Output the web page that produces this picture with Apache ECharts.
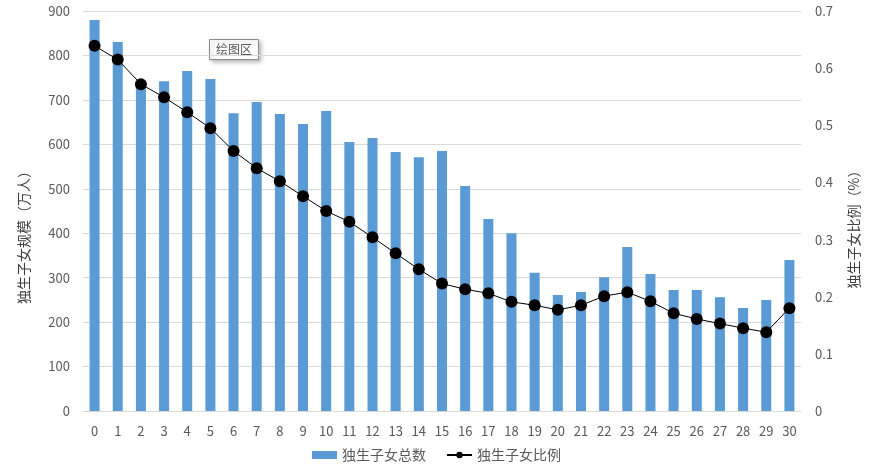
<!DOCTYPE html>
<html><head><meta charset="utf-8">
<script src="https://cdn.jsdelivr.net/npm/echarts@6/dist/echarts.min.js"></script>
<style>html,body{margin:0;padding:0;background:#fff}#c{width:873px;height:473px}</style>
</head><body><div id="c"></div>
<script>
const categories = ['0','1','2','3','4','5','6','7','8','9','10','11','12','13','14','15','16','17','18','19','20','21','22','23','24','25','26','27','28','29','30'];
const totalValues = [880,830,740,742,765,747,670,695,668,646,675,605,614,583,571,585,506,432,400,311,261,268,301,369,308,272,272,256,232,250,340];
const ratioValues = [0.639,0.615,0.572,0.549,0.523,0.495,0.455,0.425,0.402,0.376,0.350,0.331,0.304,0.276,0.248,0.223,0.213,0.206,0.191,0.185,0.177,0.185,0.201,0.208,0.192,0.171,0.161,0.153,0.145,0.138,0.180];
const leftTicks = {min:0, max:900, interval:100};
const rightTicks = {min:0, max:0.7, interval:0.1};
const seriesNames = ['独生子女总数','独生子女比例'];
const axisNames = ['独生子女规模（万人）','独生子女比例（%）'];

const font = '"Noto Sans CJK SC", "Noto Sans", sans-serif';
const chart = echarts.init(document.getElementById('c'), null, {renderer:'canvas'});
chart.setOption({
  animation:false,
  backgroundColor:'#fff',
  textStyle:{fontFamily:font},
  grid:{left:83, right:72, top:11, bottom:62, containLabel:false},
  legend:{
    bottom:6, left:'center', itemGap:20, itemWidth:25, itemHeight:8,
    textStyle:{color:'#595959', fontSize:14, fontFamily:font},
    data:[{name:seriesNames[0], icon:'rect'},{name:seriesNames[1]}]
  },
  xAxis:{
    type:'category', data:categories, boundaryGap:true,
    axisLine:{show:true, lineStyle:{color:'#D9D9D9'}},
    axisTick:{show:false},
    axisLabel:{color:'#595959', fontSize:13, margin:14, fontFamily:font, interval:0}
  },
  yAxis:[{
    type:'value', min:leftTicks.min, max:leftTicks.max, interval:leftTicks.interval,
    name:axisNames[0], nameLocation:'middle', nameGap:52, nameRotate:90,
    nameTextStyle:{color:'#404040', fontSize:14, fontFamily:font, padding:[0,46,0,0]},
    axisLine:{show:false}, axisTick:{show:false},
    axisLabel:{color:'#595959', fontSize:13, margin:13, fontFamily:font},
    splitLine:{show:true, lineStyle:{color:'#D9D9D9', width:1}}
  },{
    type:'value', min:rightTicks.min, max:rightTicks.max, interval:rightTicks.interval,
    name:axisNames[1], nameLocation:'middle', nameGap:46, nameRotate:90,
    nameTextStyle:{color:'#404040', fontSize:14, fontFamily:font, padding:[0,30,0,0]},
    axisLine:{show:false}, axisTick:{show:false},
    axisLabel:{color:'#595959', fontSize:13, margin:14, fontFamily:font},
    splitLine:{show:false}
  }],
  series:[{
    name:seriesNames[0], type:'bar', data:totalValues, barWidth:10, yAxisIndex:0,
    itemStyle:{color:'#5B9BD5'}
  },{
    name:seriesNames[1], type:'line', data:ratioValues, yAxisIndex:1,
    symbol:'circle', symbolSize:12, showSymbol:true,
    lineStyle:{color:'#000', width:1},
    itemStyle:{color:'#000'}
  }],
  graphic:[{
    type:'group', left:209, top:39,
    children:[{
      type:'rect', shape:{x:0,y:0,width:49,height:20},
      style:{fill:'#fff', stroke:'#8c8c8c', lineWidth:1, shadowBlur:4, shadowOffsetX:2, shadowOffsetY:2, shadowColor:'rgba(0,0,0,0.25)'}
    },{
      type:'text', style:{text:'绘图区', x:24.5, y:10, align:'center', verticalAlign:'middle', fill:'#595959', fontSize:12, fontFamily:font}
    }]
  }]
});
</script></body></html>
